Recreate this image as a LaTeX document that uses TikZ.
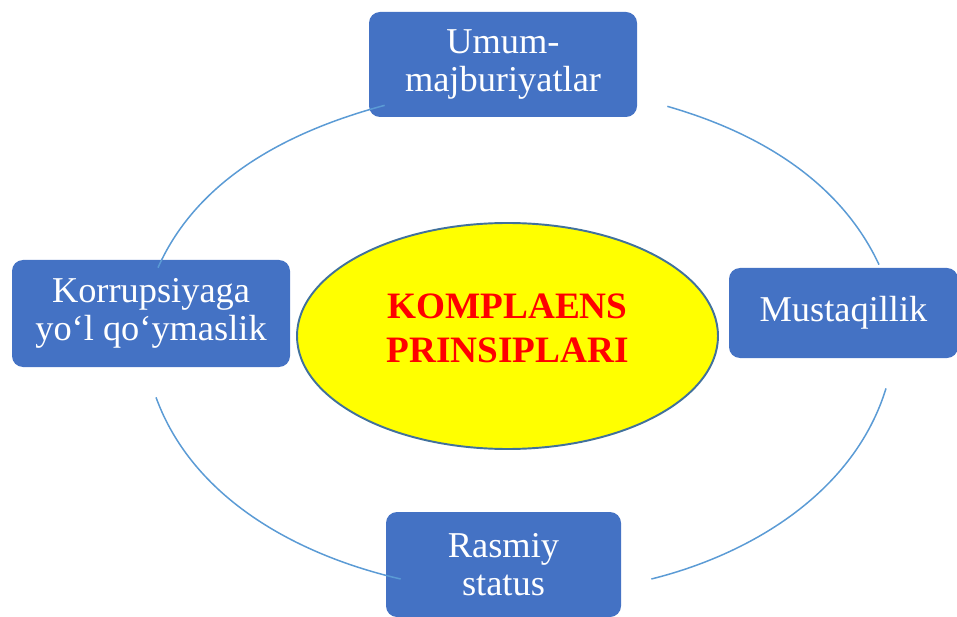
\documentclass[tikz,border=0pt]{standalone}
\usepackage{fontspec}
\setmainfont{Liberation Serif}
\usetikzlibrary{shapes.geometric}
\definecolor{boxblue}{HTML}{4472C4}
\definecolor{ringblue}{HTML}{5B9BD5}
\definecolor{rimblue}{HTML}{41719C}
\definecolor{coreyellow}{RGB}{255,255,0}
\definecolor{corered}{RGB}{255,0,0}

\begin{document}
\begin{tikzpicture}[scale=1.0,
  box/.style={rectangle, rounded corners=0.22cm, fill=boxblue, text=white, align=center, inner sep=0pt, font=\fontsize{20.7}{21.6}\selectfont},
  core/.style={ellipse, draw=rimblue, line width=1.1pt, fill=coreyellow, text=corered, align=center, inner sep=0pt, minimum width=8.42cm, minimum height=4.52cm, font=\bfseries\fontsize{21.2}{25}\selectfont},
  ring/.style={ringblue, line width=0.85pt, looseness=0.9}]

\useasboundingbox (0,0) rectangle (19.14,12.32);

\node[core] (centre) at ( 10.15, 5.60) {KOMPLAENS\\PRINSIPLARI\rule[-0.33cm]{0pt}{0pt}};

\node[box, minimum width=5.36cm, minimum height=2.10cm] (top) at ( 10.06, 11.03) {Umum-\\majburiyatlar};
\node[box, minimum width=4.58cm, minimum height=1.80cm] (right) at ( 16.87, 6.06) {Mustaqillik};
\node[box, minimum width=4.70cm, minimum height=2.10cm] (bottom) at ( 10.07, 1.03) {Rasmiy\\status};
\node[box, minimum width=5.56cm, minimum height=2.14cm] (left) at (  3.02, 6.05) {Korrupsiyaga\\yo‘l qo‘ymaslik};

\draw[ring] ([shift={( 0.14,-0.16)}]left.north) to[out= 66, in=195] ([shift={( 0.32, 0.24)}]top.south west);
\draw[ring] ([shift={( 0.60, 0.22)}]top.south east) to[out=-16, in=115] ([shift={( 0.71, 0.06)}]right.north);
\draw[ring] ([shift={( 0.85,-0.60)}]right.south) to[out=-107, in= 14] ([shift={( 0.60,-0.29)}]bottom.east);
\draw[ring] ([shift={( 0.30,-0.29)}]bottom.west) to[out=167, in=-70] ([shift={( 0.10,-0.60)}]left.south);

\end{tikzpicture}
\end{document}
